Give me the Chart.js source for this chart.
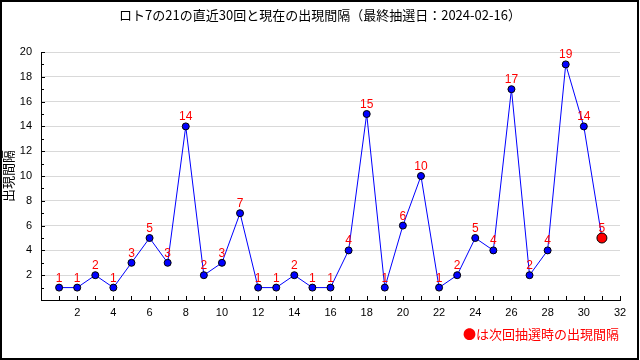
<!DOCTYPE html>
<html>
<head>
<meta charset="utf-8">
<script src="https://cdn.jsdelivr.net/npm/chart.js@4"></script>
<style>
  html, body { margin: 0; padding: 0; background: #fff; }
  canvas { display: block; }
</style>
</head>
<body>
<canvas id="myChart" width="640" height="360"></canvas>
<script>
// 回数（直近30回 + 現在）
const drawNos = [1,2,3,4,5,6,7,8,9,10,11,12,13,14,15,16,17,18,19,20,21,22,23,24,25,26,27,28,29,30,31];
// 出現間隔
const intervals = [1,1,2,1,3,5,3,14,2,3,7,1,1,2,1,1,4,15,1,6,10,1,2,5,4,17,2,4,19,14];
const currentInterval = 5;

const xTickValues = [2,4,6,8,10,12,14,16,18,20,22,24,26,28,30,32];
const yTickValues = [2,4,6,8,10,12,14,16,18,20];

const titleText = 'ロト7の21の直近30回と現在の出現間隔（最終抽選日：2024-02-16）';
const yTitle = '出現間隔';
const noteText = '●は次回抽選時の出現間隔';

const allValues = intervals.concat([currentInterval]);
const points = drawNos.map((n, i) => ({ x: n, y: allValues[i] }));
const last = points.length - 1;

const jp = '"Noto Sans CJK JP", "Noto Sans", sans-serif';

const decor = {
  id: 'decor',
  beforeDraw(chart) {
    const ctx = chart.ctx;
    ctx.save();
    ctx.fillStyle = '#fff';
    ctx.fillRect(0, 0, chart.width, chart.height);
    ctx.restore();
  },
  afterDraw(chart) {
    const ctx = chart.ctx;
    const xs = chart.scales.x, ys = chart.scales.y;
    ctx.save();

    // inward ticks
    ctx.strokeStyle = '#000';
    ctx.lineWidth = 1;
    ctx.beginPath();
    for (let v = 1; v <= 32; v++) {
      const px = Math.round(xs.getPixelForValue(v)) + 0.5;
      ctx.moveTo(px, ys.bottom);
      ctx.lineTo(px, ys.bottom - 4);
    }
    for (let v = 1; v <= 20; v++) {
      const py = Math.round(ys.getPixelForValue(v)) + 0.5;
      const len = v % 2 === 0 ? 4 : 3;
      ctx.moveTo(xs.left, py);
      ctx.lineTo(xs.left + len, py);
    }
    ctx.stroke();

    // data labels
    const meta = chart.getDatasetMeta(0);
    ctx.fillStyle = '#ff0000';
    ctx.font = '12px "Liberation Sans", sans-serif';
    ctx.textAlign = 'center';
    ctx.textBaseline = 'alphabetic';
    meta.data.forEach((el, i) => {
      ctx.fillText(String(allValues[i]), el.x, el.y - 6);
    });

    // title
    ctx.fillStyle = '#000';
    ctx.font = '13px ' + jp;
    ctx.textAlign = 'center';
    ctx.textBaseline = 'middle';
    ctx.fillText(titleText, 320, 15);

    // y title
    ctx.save();
    ctx.translate(8, 176);
    ctx.rotate(-Math.PI / 2);
    ctx.fillText(yTitle, 0, 0);
    ctx.restore();

    // note
    ctx.fillStyle = '#ff0000';
    ctx.textAlign = 'right';
    ctx.fillText(noteText, 619, 334);

    // frame
    ctx.strokeStyle = '#000';
    ctx.lineWidth = 2;
    ctx.strokeRect(1, 1, 637, 358);
    ctx.restore();
  }
};

const config = {
  type: 'line',
  data: {
    datasets: [{
      data: points,
      borderColor: '#0000ff',
      borderWidth: 1,
      tension: 0,
      pointBackgroundColor: points.map((p, i) => i === last ? '#ff0000' : '#0000ff'),
      pointBorderColor: '#000',
      pointBorderWidth: 1,
      pointRadius: points.map((p, i) => i === last ? 5 : 3.5),
      fill: false
    }]
  },
  options: {
    responsive: false,
    devicePixelRatio: 1,
    animation: false,
    layout: { padding: { top: 52, right: 20, left: 0, bottom: 0 } },
    plugins: { legend: { display: false }, tooltip: { enabled: false }, title: { display: false } },
    scales: {
      x: {
        type: 'linear',
        min: 0,
        max: 32,
        afterBuildTicks: s => { s.ticks = xTickValues.map(v => ({ value: v })); },
        afterFit: s => { s.height = 60; s.paddingLeft = 0; s.paddingRight = 0; },
        grid: { display: false, drawTicks: false },
        border: { display: true, color: '#000', width: 1 },
        ticks: { color: '#000', padding: 6, maxRotation: 0, autoSkip: false, font: { family: '"Liberation Sans", sans-serif', size: 11 } }
      },
      y: {
        min: 0,
        max: 20,
        afterBuildTicks: s => { s.ticks = yTickValues.map(v => ({ value: v })); },
        afterFit: s => { s.width = 41; s.paddingTop = 0; s.paddingBottom = 0; },
        grid: { color: '#d9d9d9', drawTicks: false },
        border: { display: true, color: '#000', width: 1 },
        ticks: { color: '#000', padding: 9, font: { family: '"Liberation Sans", sans-serif', size: 11 } }
      }
    }
  },
  plugins: [decor]
};

var myChart = new Chart(document.getElementById('myChart'), config);
</script>
</body>
</html>
